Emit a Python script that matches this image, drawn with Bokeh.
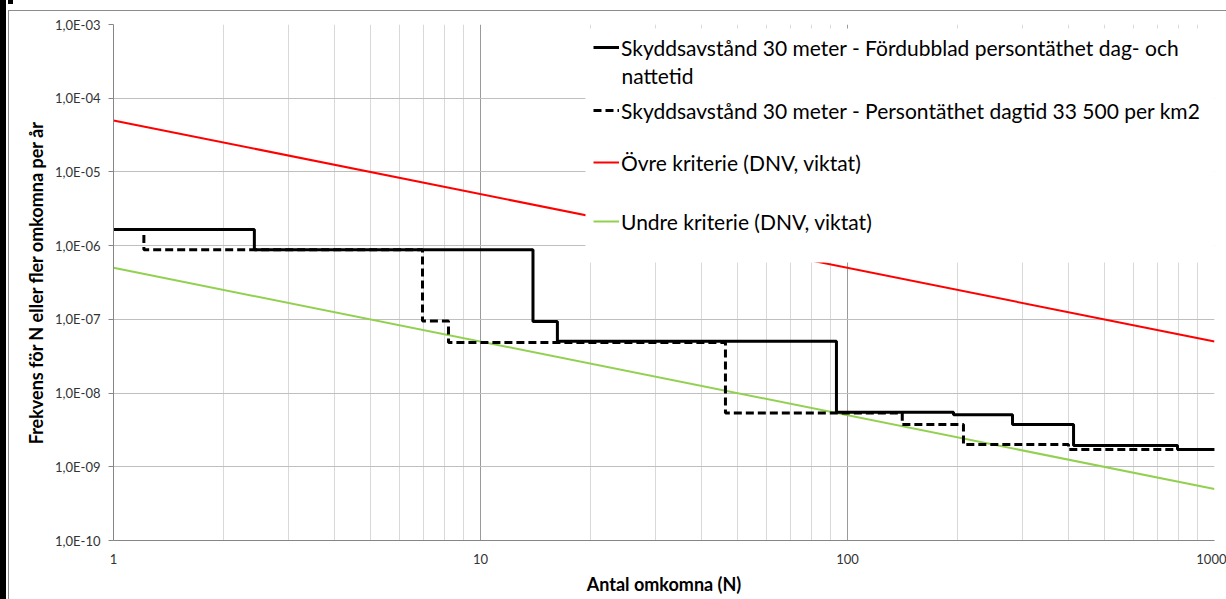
from bokeh.plotting import figure
from bokeh.models import (Legend, LegendItem, CustomJSTickFormatter, FixedTicker,
                          BoxAnnotation, Label)
from bokeh.embed import file_html
from bokeh.resources import INLINE

# ---------------- data ----------------
x_ticks = [1, 10, 100, 1000]
x_minor = [m * 10 ** d for d in range(3) for m in range(2, 10)]
y_ticks = [1e-10, 1e-9, 1e-8, 1e-7, 1e-6, 1e-5, 1e-4, 1e-3]

# Skyddsavstånd 30 meter - Fördubblad persontäthet dag- och nattetid (solid step)
solid_n = [1, 2.42, 13.9, 16.2, 93.3, 194.5, 281.6, 413, 793, 1000]
solid_f = [1.66e-6, 8.8e-7, 9.35e-8, 5.05e-8, 5.5e-9, 5.1e-9, 3.74e-9, 1.94e-9, 1.71e-9, 1.71e-9]

# Skyddsavstånd 30 meter - Persontäthet dagtid 33 500 per km2 (dashed step)
dash_n = [1, 1.21, 6.95, 8.18, 46.5, 141, 207, 400, 1000]
dash_f = [1.66e-6, 8.8e-7, 9.5e-8, 4.85e-8, 5.35e-9, 3.74e-9, 2.0e-9, 1.71e-9, 1.71e-9]

# criteria lines
crit_n = [1, 1000]
upper_f = [5e-5, 5e-8]
lower_f = [5e-7, 5e-10]

labels = [
    "Skyddsavstånd 30 meter - Fördubblad persontäthet dag- och",
    "Skyddsavstånd 30 meter - Persontäthet dagtid 33 500 per km2",
    "Övre kriterie (DNV, viktat)",
    "Undre kriterie (DNV, viktat)",
]
label_cont = "nattetid"
x_title = "Antal omkomna (N)"
y_title = "Frekvens för N eller fler omkomna per år"

FONT = "Lato"

p = figure(width=1226, height=599, x_axis_type="log", y_axis_type="log",
           x_range=(1, 1000), y_range=(1e-10, 1e-3),
           min_border_left=113, min_border_right=12, min_border_top=24,
           min_border_bottom=59, output_backend="svg", toolbar_location=None,
           background_fill_color="white", border_fill_alpha=0)
p.outline_line_color = None
p.styles = {
    "background": (
        "linear-gradient(to right, #000 0px, #000 6px, transparent 6px),"
        "linear-gradient(to right, transparent 8px, #000 8px, #000 13px, transparent 13px) 0 0 / 100% 4px no-repeat,"
        "linear-gradient(to bottom, #8c8c8c 0px, #8c8c8c 1px, transparent 1px) 8px 10px / calc(100% - 8px) calc(100% - 10px) no-repeat,"
        "linear-gradient(to right, #8c8c8c 0px, #8c8c8c 1px, transparent 1px) 8px 10px / calc(100% - 8px) calc(100% - 10px) no-repeat,"
        "#ffffff"
    )
}

# axes
p.xaxis.ticker = FixedTicker(ticks=x_ticks, minor_ticks=x_minor)
p.yaxis.ticker = FixedTicker(ticks=y_ticks)
p.xaxis.formatter = CustomJSTickFormatter(code="return String(Math.round(tick));")
p.yaxis.formatter = CustomJSTickFormatter(code="""
const e = Math.round(Math.log10(tick));
const a = Math.abs(e);
return '1,0E' + (e < 0 ? '-' : '+') + (a < 10 ? '0' + a : '' + a);
""")
for ax in (p.xaxis[0], p.yaxis[0]):
    ax.axis_line_color = "#868686"
    ax.major_label_text_font = FONT
    ax.major_label_text_font_size = "13px"
    ax.major_label_text_color = "#333333"
    ax.axis_label_text_font = FONT
    ax.axis_label_text_font_style = "bold"
    ax.axis_label_text_font_size = "18px"
    ax.axis_label_text_color = "#000000"
    ax.minor_tick_line_color = None
p.xaxis.major_tick_line_color = None
p.xaxis.major_label_standoff = 7
p.xaxis.axis_label = x_title
p.xaxis.axis_label_standoff = 6
p.yaxis.major_tick_line_color = "#868686"
p.yaxis.major_tick_out = 5
p.yaxis.major_tick_in = 0
p.yaxis.major_label_standoff = 8
p.yaxis.axis_label = y_title
p.yaxis.axis_label_standoff = 5

# grid
p.xgrid.grid_line_color = "#9a9a9a"
p.xgrid.minor_grid_line_color = "#d9d9d9"
p.ygrid.grid_line_color = "#bfbfbf"

# data renderers
r_up = p.line(crit_n, upper_f, line_color="#ff0000", line_width=2)
r_lo = p.line(crit_n, lower_f, line_color="#92d050", line_width=2)
r_solid = p.step(solid_n, solid_f, mode="after", line_color="black", line_width=3)
r_dash = p.step(dash_n, dash_f, mode="after", line_color="black", line_width=3,
                line_dash="8 4")

# legend background (screen units relative to the plot frame, y from bottom)
p.add_layout(BoxAnnotation(left=472, right=1101, top=512, bottom=278,
                           left_units="screen", right_units="screen",
                           top_units="screen", bottom_units="screen",
                           fill_color="white", fill_alpha=1.0, line_color=None))

legend_specs = [(r_solid, labels[0], 478), (r_dash, labels[1], 415),
                (r_up, labels[2], 363), (r_lo, labels[3], 304)]
for rend, lab, ypos in legend_specs:
    lg = Legend(items=[LegendItem(label=lab, renderers=[rend])],
                location=(480, ypos), padding=0, margin=0, spacing=0,
                border_line_color=None, background_fill_alpha=0,
                glyph_width=26, glyph_height=30, label_standoff=2,
                label_height=30, label_text_font=FONT,
                label_text_font_size="21px", label_text_color="black")
    p.add_layout(lg)

p.add_layout(Label(x=508, y=465, x_units="screen", y_units="screen",
                   text=label_cont, text_font=FONT, text_font_size="21px",
                   text_color="black", text_baseline="middle", text_align="left"))

open("out.html", "w").write(file_html(p, INLINE))
